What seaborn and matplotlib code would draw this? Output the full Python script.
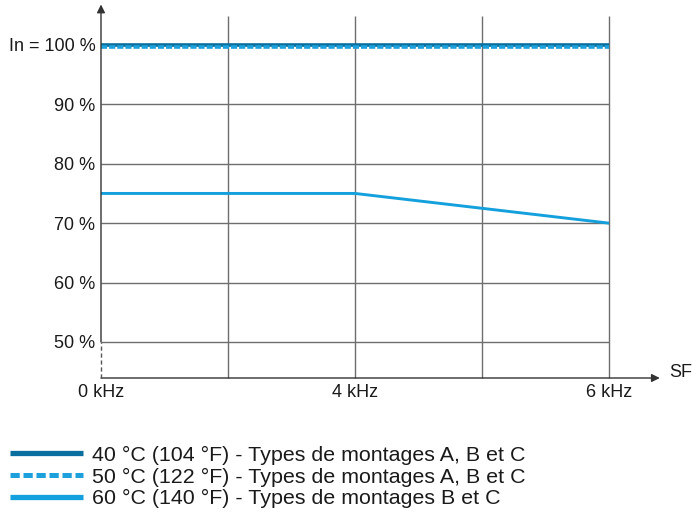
import pandas as pd
import matplotlib.pyplot as plt
import seaborn as sns

# fréquences de découpage (kHz) et colonnes de la grille
grid_khz = [0, 2, 4, 5, 6]
freq_khz = [0, 4, 6]
freq_labels = ["0 kHz", "4 kHz", "6 kHz"]

# courant de sortie en % de In
pct_ticks = [50, 60, 70, 80, 90, 100]
pct_labels = ["50 %", "60 %", "70 %", "80 %", "90 %", "In = 100 %"]

curve_40 = [100, 100, 100]
curve_50 = [99.6, 99.6, 99.6]
curve_60 = [75, 75, 70]

names = [
    "40 °C (104 °F) - Types de montages A, B et C",
    "50 °C (122 °F) - Types de montages A, B et C",
    "60 °C (140 °F) - Types de montages B et C",
]
colors = ["#0a6e9e", "#1ea0dc", "#14a0dc"]

sns.set_style("white")
plt.rcParams["font.family"] = ["Liberation Sans", "DejaVu Sans"]

slot = lambda f: grid_khz.index(f)
x_pos = [slot(f) for f in freq_khz]

df = pd.concat([
    pd.DataFrame({"x": x_pos, "pct": vals, "serie": n})
    for vals, n in zip([curve_40, curve_50, curve_60], names)
])

fig = plt.figure(figsize=(6.92, 5.13), dpi=100)
ax = fig.add_axes([101 / 692, 1 - 378 / 513, (609 - 101) / 692, (378 - 14) / 513])

y_lo, y_hi = 43.94, 105.2
x_hi = len(grid_khz) - 1

# grille
ax.hlines(pct_ticks, 0, x_hi, color="#6e6e6e", lw=1.0, zorder=1)
ax.vlines(range(1, len(grid_khz)), y_lo, 104.8, color="#6e6e6e", lw=1.0, zorder=1,
          clip_on=False)

# courbes
sns.lineplot(data=df[df.serie == names[0]], x="x", y="pct", color=colors[0],
             lw=2.6, label=names[0], ax=ax, zorder=3)
sns.lineplot(data=df[df.serie == names[1]], x="x", y="pct", color=colors[1],
             lw=2.6, label=names[1], ax=ax, zorder=4)
sns.lineplot(data=df[df.serie == names[2]], x="x", y="pct", color=colors[2],
             lw=2.1, label=names[2], ax=ax, zorder=3)
ax.lines[1].set_linestyle((0, (1.7, 0.55)))

ax.set_xlim(0, x_hi)
ax.set_ylim(y_lo, y_hi)
ax.set_xticks([slot(f) for f in freq_khz])
ax.set_xticklabels(freq_labels)
ax.set_yticks(pct_ticks)
ax.set_yticklabels(pct_labels)
ax.tick_params(axis="both", length=0, labelsize=13, labelcolor="#1a1a1a")
ax.tick_params(axis="y", pad=4)
ax.tick_params(axis="x", pad=4)
ax.set_xlabel("")
ax.set_ylabel("")
for s in ax.spines.values():
    s.set_visible(False)

# axes avec flèches
ax.annotate("", xy=(4.40, y_lo), xytext=(0, y_lo), xycoords="data",
            arrowprops=dict(arrowstyle="-|>", color="#333333", lw=1.0,
                            mutation_scale=12, shrinkA=0, shrinkB=0),
            annotation_clip=False, zorder=5)
ax.annotate("", xy=(0, 106.8), xytext=(0, 50), xycoords="data",
            arrowprops=dict(arrowstyle="-|>", color="#333333", lw=1.0,
                            mutation_scale=12, shrinkA=0, shrinkB=0),
            annotation_clip=False, zorder=5)
ax.plot([0, 0], [y_lo, 50], color="#555555", lw=1.0, ls=(0, (3, 2)), clip_on=False, zorder=5)
ax.text(4.475, y_lo + 1.0, "SF", fontsize=13, color="#1a1a1a", va="center", ha="left",
        transform=ax.transData, clip_on=False)

leg = ax.legend(loc="upper left", bbox_to_anchor=(10 / 692, 1 - 445.5 / 513),
                bbox_transform=fig.transFigure, frameon=False, fontsize=15.4,
                borderpad=0, borderaxespad=0, handlelength=3.4, handletextpad=0.42,
                labelspacing=0.135)
for h, w in zip(leg.get_lines(), [3.8, 3.6, 3.8]):
    h.set_linewidth(w)
    h.set_solid_capstyle("butt")
    h.set_dash_capstyle("butt")
leg.get_lines()[1].set_linestyle((0, (1.85, 0.75)))
for t in leg.get_texts():
    t.set_color("#1a1a1a")

fig.savefig("out.png", dpi=100)
plt.close()
